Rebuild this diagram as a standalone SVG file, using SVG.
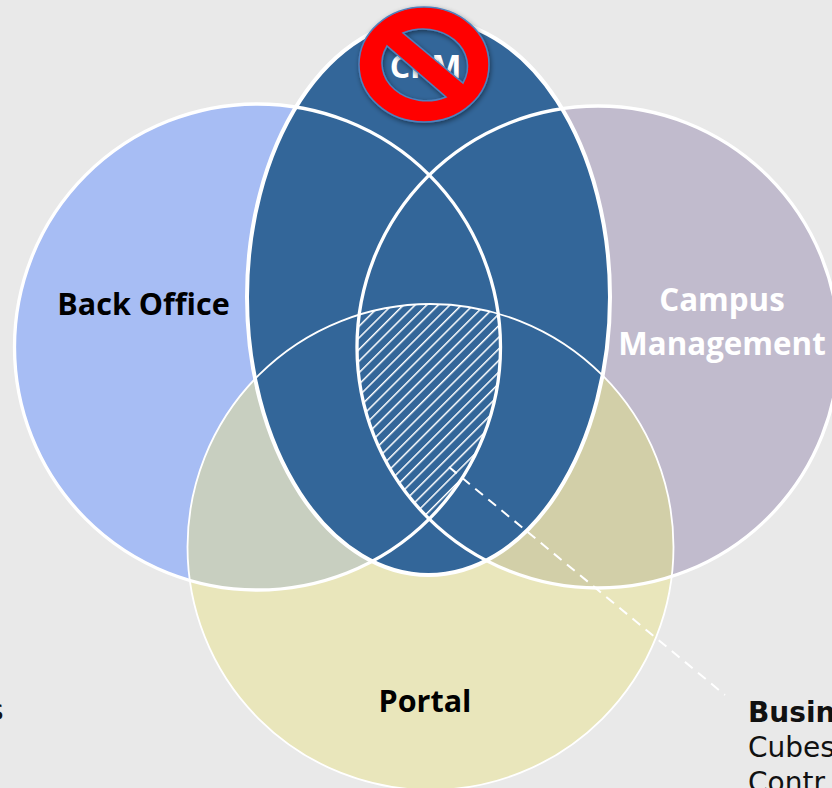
<svg xmlns="http://www.w3.org/2000/svg" width="832" height="788" viewBox="0 0 832 788">
<style>
.lbl{font-family:"Open Sans","DejaVu Sans",sans-serif;font-weight:700;font-size:30.500px;text-anchor:middle}
.note{font-family:"DejaVu Sans",sans-serif;font-size:28px;fill:#111}
.edge{fill:none;stroke:#fff;stroke-width:3.300}
.bold{fill:none;stroke:#fff;stroke-width:4}
.thin{fill:none;stroke:#fff;stroke-width:1.800}
</style>
<defs>
<clipPath id="cBack"><circle cx="257.500" cy="347" r="243"/></clipPath>
<clipPath id="cCampus"><circle cx="598" cy="347" r="241"/></clipPath>
<clipPath id="cPortal"><circle cx="430.500" cy="547" r="243"/></clipPath>
<pattern id="hatch" width="8.200" height="8.200" patternUnits="userSpaceOnUse" patternTransform="rotate(45)">
<line x1="0" y1="0" x2="0" y2="8.200" stroke="#fff" stroke-width="3"/>
</pattern>
<filter id="sh" x="-20%" y="-20%" width="140%" height="140%"><feDropShadow dx="1" dy="2" stdDeviation="2.500" flood-color="#000" flood-opacity=".45"/></filter>
</defs>
<rect width="832" height="788" fill="#e9e9e9"/>
<g id="back-office"><circle cx="257.500" cy="347" r="243" fill="#a7bdf4"/></g>
<g id="campus-management"><circle cx="598" cy="347" r="241" fill="#c1bbcd"/></g>
<g id="portal"><circle cx="430.500" cy="547" r="243" fill="#e9e6bb"/>
<g clip-path="url(#cPortal)"><circle cx="257.500" cy="347" r="243" fill="#c8cfc0"/><circle cx="598" cy="347" r="241" fill="#d2cfa8"/></g></g>
<g id="crm"><ellipse cx="428.500" cy="297" rx="181.500" ry="278" fill="#336699"/></g>
<g id="outlines">
<circle class="thin" cx="430.500" cy="547" r="243"/>
<circle class="edge" cx="257.500" cy="347" r="243"/>
<circle class="edge" cx="598" cy="347" r="241"/>
<ellipse class="bold" cx="428.500" cy="297" rx="181.500" ry="278"/>
</g>
<g id="business-intelligence">
<g clip-path="url(#cBack)"><g clip-path="url(#cCampus)"><g clip-path="url(#cPortal)"><rect x="350" y="300" width="160" height="225" fill="url(#hatch)"/></g></g></g>
</g>
<g id="connectors"><line x1="449" y1="467" x2="725" y2="695" stroke="#fff" stroke-width="2" stroke-dasharray="10 7"/></g>
<g id="labels">
<text class="lbl" x="143.500" y="314.500" fill="#000">Back Office</text>
<text class="lbl" x="722" y="310.500" fill="#fff" style="font-size:31.300px">Campus</text>
<text class="lbl" x="722" y="355" fill="#fff" style="font-size:31.300px">Management</text>
<text class="lbl" x="425" y="711.500" fill="#000">Portal</text>
<text class="lbl" x="425.500" y="78" fill="#fff" style="font-size:32px">CRM</text>
<text class="note" x="748" y="722" font-weight="700" fill="#000">Busin</text>
<text class="note" x="748" y="757">Cubes</text>
<text class="note" x="748" y="792">Contr</text>
<text class="note" x="-11" y="720">s</text>
</g>
<g id="no-sign"><path filter="url(#sh)" fill="#ff0000" fill-rule="evenodd" stroke="#4f81bd" stroke-width="1.500" d="M359 64.500a65 57.500 0 1 0 130 0a65 57.500 0 1 0-130 0ZM403 33L463 83A44.500 37.500 0 0 0 403 33ZM387 46A44.500 37.500 0 0 0 446 97Z"/></g>
</svg>
